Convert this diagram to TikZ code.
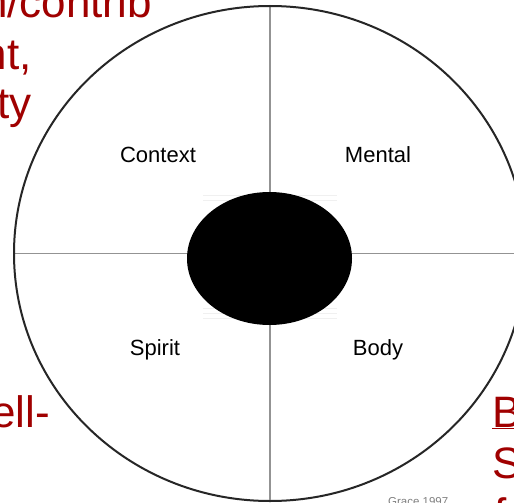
\documentclass[tikz,border=0pt]{standalone}
\usepackage{fontspec}
\usetikzlibrary{shapes.geometric}
\setmainfont{Liberation Sans}
\definecolor{slidered}{HTML}{A00000}
\begin{document}
\begin{tikzpicture}[x=1pt,y=-1pt,
  quad/.style={font=\fontsize{22}{26}\selectfont, text=black, inner sep=0pt},
  redtxt/.style={font=\fontsize{44}{51}\selectfont, text=slidered, inner sep=0pt},
  crossline/.style={draw=gray!85, line width=1.6pt},
  rim/.style={draw=black!85, line width=2pt},
  faint/.style={draw=gray!12, line width=0.8pt}]
\useasboundingbox (0,0) rectangle (514,503);
\clip (0,0) rectangle (514,503);
\fill[white] (0,0) rectangle (514,503);
% outer circle
\coordinate (c) at (270,253.5);
\coordinate (top) at (270,6);
\coordinate (bot) at (270,501);
\coordinate (lft) at (14,253.5);
\coordinate (rgt) at (526,253.5);
\draw[crossline] (top) -- (bot);
\draw[crossline] (lft) -- (rgt);
\draw[rim] (c) ellipse [x radius=256, y radius=247.5];
% faint artefact lines
\foreach \yy in {195,200,308,313,318}
  \draw[faint] (203,\yy) -- (337,\yy);
% central hub
\node[ellipse, fill=black, inner sep=0pt, minimum width=165pt, minimum height=133pt] (hub) at (269.5,258.5) {};
% labels
\node[quad] (context) at (158,155) {Context};
\node[quad] (mental) at (378,155) {Mental};
\node[quad] (spirit) at (155,350) {Spirit};
\node[quad] (body) at (378,350) {Body};
% red slide text fragments
\node[redtxt, anchor=base east] (t1) at (152,18) {n/contrib};
\node[redtxt, anchor=base east] (t2) at (32,70) {nt,};
\node[redtxt, anchor=base east] (t3) at (32,118) {ty};
\node[redtxt, anchor=base east] (t4) at (50,427) {ell-};
\node[redtxt, anchor=base west] (t5) at (492,427) {\underline{B}};
\node[redtxt, anchor=base west] (t6) at (492,478) {S};
\node[redtxt, anchor=base west] (t7) at (494,529) {f};
\node[font=\fontsize{11.5}{13}\selectfont, text=gray, anchor=north west, inner sep=0pt] (src) at (388,497) {Grace 1997};
\end{tikzpicture}
\end{document}
